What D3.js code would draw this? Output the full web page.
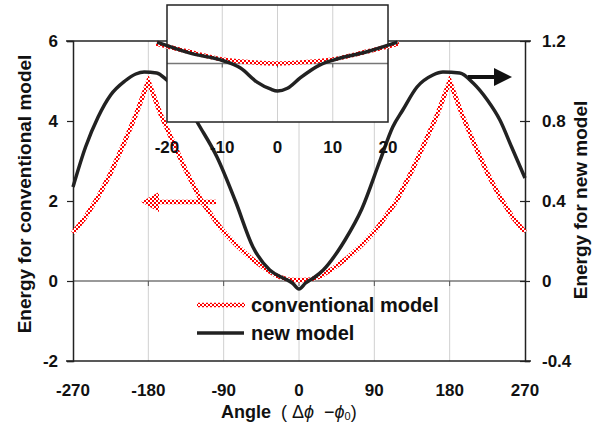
<!DOCTYPE html>
<html>
<head>
<meta charset="utf-8">
<script src="https://cdn.jsdelivr.net/npm/d3@7"></script>
<style>
  body { margin: 0; background: #fff; }
  svg text { font-family: "Liberation Sans", Arial, sans-serif; font-weight: bold; fill: #111; }
</style>
</head>
<body>
<div id="chart"></div>
<script>
// chart data
const angleTicks = [-270, -180, -90, 0, 90, 180, 270];
const leftTicks = [6, 4, 2, 0, -2];
const rightTicks = [1.2, 0.8, 0.4, 0, -0.4];

const convAngle = [-270, -255, -240, -225, -210, -195, -180, -165, -150, -136, -116, -92, -75, -58, -40, -26, -12, 0,
  12, 26, 40, 58, 75, 92, 116, 136, 150, 165, 180, 195, 210, 225, 240, 255, 270];
const convEnergy = [1.2, 1.6, 2.1, 2.7, 3.4, 4.15, 5.0, 4.15, 3.45, 2.8, 1.98, 1.28, 0.9, 0.58, 0.3, 0.12, 0.03, 0.02,
  0.03, 0.12, 0.3, 0.58, 0.9, 1.28, 1.98, 2.8, 3.45, 4.15, 5.0, 4.15, 3.4, 2.7, 2.1, 1.6, 1.22];

const newAngle = [-270, -255, -240, -225, -208, -195, -185, -170, -158, -140, -121, -98, -76, -55, -35, -19, -8, 0,
  8, 19, 29, 45, 55, 75, 97, 112, 124, 141, 160, 172, 192, 208, 225, 240, 254, 270];
const newEnergy = [0.47, 0.67, 0.82, 0.93, 1.0, 1.035, 1.045, 1.04, 1.005, 0.93, 0.79, 0.62, 0.4, 0.17, 0.055, 0.015, -0.01, -0.04,
  -0.01, 0.02, 0.055, 0.14, 0.205, 0.36, 0.605, 0.77, 0.855, 0.97, 1.03, 1.045, 1.04, 0.99, 0.905, 0.805, 0.67, 0.515];

// inset (zoom around 0)
const insetTicks = [-20, -10, 0, 10, 20];
const insetConvAngle = [-22, -16, -10, -5, 0, 5, 10, 16, 22];
const insetConvEnergy = [0.029, 0.017, 0.006, 0.002, 0, 0.002, 0.006, 0.017, 0.029];
const insetNewAngle = [-21.8, -15.8, -9.8, -6.7, -3.7, -1.3, 0, 1.8, 4.1, 7.7, 10.1, 16.2, 21.7];
const insetNewEnergy = [0.031, 0.015, 0.004, -0.0065, -0.027, -0.037, -0.040, -0.036, -0.021, -0.002, 0.005, 0.017, 0.031];

const width = 605, height = 432;
const svg = d3.select("#chart").append("svg")
    .attr("width", width)
    .attr("height", height);

// red/white checker used for the conventional model strokes
const pat = svg.append("defs").append("pattern")
    .attr("id", "checker")
    .attr("patternUnits", "userSpaceOnUse")
    .attr("width", 4).attr("height", 4);
pat.append("rect").attr("width", 4).attr("height", 4).style("fill", "#fff");
pat.append("rect").attr("width", 2).attr("height", 2).style("fill", "#ff0000");
pat.append("rect").attr("x", 2).attr("y", 2).attr("width", 2).attr("height", 2).style("fill", "#ff0000");

const x = d3.scaleLinear().domain([-270, 270]).range([73, 525]);
const yL = d3.scaleLinear().domain([-2, 6]).range([361, 41]);
const yR = d3.scaleLinear().domain([-0.4, 1.2]).range([361, 41]);

const BLACK = "#222";
const hyphen = d => String(d).replace("\u2212", "-");

// vertical gridlines
svg.selectAll(".vgrid")
    .data(angleTicks.slice(1, -1))
    .enter().append("line")
    .attr("x1", d => x(d)).attr("x2", d => x(d))
    .attr("y1", yL(6)).attr("y2", yL(-2))
    .style("stroke", "#d0d0d0").style("stroke-width", 1);

// x axis line at zero with ticks
svg.append("line")
    .attr("x1", x(-270)).attr("x2", x(270))
    .attr("y1", yL(0)).attr("y2", yL(0))
    .style("stroke", "#777").style("stroke-width", 1.5);
svg.selectAll(".xtick")
    .data(angleTicks.slice(1, -1))
    .enter().append("line")
    .attr("x1", d => x(d)).attr("x2", d => x(d))
    .attr("y1", yL(0)).attr("y2", yL(0) + 5)
    .style("stroke", "#555").style("stroke-width", 1);

// frame: top/bottom lines, left/right axes
svg.append("line").attr("x1", 66).attr("x2", 531).attr("y1", yL(6)).attr("y2", yL(6))
    .style("stroke", BLACK).style("stroke-width", 1.5);
svg.append("line").attr("x1", 66).attr("x2", 531).attr("y1", yL(-2)).attr("y2", yL(-2))
    .style("stroke", BLACK).style("stroke-width", 1.5);

const leftAxis = d3.axisLeft(yL).tickValues(leftTicks).tickSize(6).tickFormat(d => String(d));
svg.append("g").attr("class", "laxis")
    .attr("transform", `translate(${x(-270)},0)`)
    .call(leftAxis);
const rightAxis = d3.axisRight(yR).tickValues(rightTicks).tickSize(5)
    .tickFormat(d => d === 0 ? "0" : hyphen(d.toFixed(1)));
svg.append("g").attr("class", "raxis")
    .attr("transform", `translate(${x(270)},0)`)
    .call(rightAxis);
svg.selectAll(".laxis path, .raxis path").style("stroke", BLACK).style("stroke-width", 1.5);
svg.selectAll(".laxis line, .raxis line").style("stroke", BLACK).style("stroke-width", 1.2);
svg.selectAll(".raxis .tick line").attr("x1", -5);
svg.selectAll(".laxis text, .raxis text")
    .style("font-size", "17px").style("font-family", "Liberation Sans, Arial, sans-serif")
    .style("font-weight", "bold").style("fill", "#111");
svg.selectAll(".laxis text").attr("x", -15);
svg.selectAll(".raxis text").attr("x", 17);

// bottom tick labels
svg.selectAll(".xlab")
    .data(angleTicks)
    .enter().append("text")
    .attr("x", d => x(d)).attr("y", 396)
    .attr("text-anchor", "middle")
    .style("font-size", "17px")
    .text(d => String(d));

// curves
const convLine = d3.line().x(d => x(d[0])).y(d => yL(d[1]));
const newLine = d3.line().x(d => x(d[0])).y(d => yR(d[1])).curve(d3.curveMonotoneX);

function redDotted(sel) {
    sel.style("fill", "none").style("stroke", "url(#checker)").style("stroke-width", 4.5);
}

svg.append("path")
    .datum(convAngle.map((a, i) => [a, convEnergy[i]]))
    .attr("d", convLine)
    .call(redDotted);
svg.append("path")
    .datum(newAngle.map((a, i) => [a, newEnergy[i]]))
    .attr("d", newLine)
    .style("fill", "none").style("stroke", BLACK).style("stroke-width", 3.5)
    .style("stroke-linejoin", "round");

// arrows
svg.append("line").attr("x1", 157).attr("x2", 216).attr("y1", 202).attr("y2", 202).call(redDotted);
svg.append("path").attr("d", "M141,202 L159,192 L159,212 Z")
    .style("fill", "url(#checker)");
svg.append("line").attr("x1", 468).attr("x2", 496).attr("y1", 77).attr("y2", 77)
    .style("stroke", "#111").style("stroke-width", 4);
svg.append("path").attr("d", "M512,77 L494,68 L494,86 Z").style("fill", "#111");

// inset
const ix = d3.scaleLinear().domain([-20, 20]).range([167, 388]);
const iy = d3.scaleLinear().domain([-0.085, 0.085]).range([122, 5]);

svg.append("rect")
    .attr("x", ix(-20)).attr("y", iy(0.085))
    .attr("width", ix(20) - ix(-20)).attr("height", iy(-0.085) - iy(0.085))
    .style("fill", "#fff");
svg.selectAll(".igrid")
    .data(insetTicks.slice(1, -1))
    .enter().append("line")
    .attr("x1", d => ix(d)).attr("x2", d => ix(d))
    .attr("y1", iy(0.085)).attr("y2", iy(-0.085))
    .style("stroke", "#d0d0d0").style("stroke-width", 1);
svg.append("line")
    .attr("x1", ix(-20)).attr("x2", ix(20))
    .attr("y1", iy(0)).attr("y2", iy(0))
    .style("stroke", "#777").style("stroke-width", 1.5);
svg.selectAll(".itick")
    .data(insetTicks.slice(1, -1))
    .enter().append("line")
    .attr("x1", d => ix(d)).attr("x2", d => ix(d))
    .attr("y1", iy(0)).attr("y2", iy(0) + 4)
    .style("stroke", "#555").style("stroke-width", 1);
svg.append("rect")
    .attr("x", ix(-20)).attr("y", iy(0.085))
    .attr("width", ix(20) - ix(-20)).attr("height", iy(-0.085) - iy(0.085))
    .style("fill", "none").style("stroke", BLACK).style("stroke-width", 1.5);

const insetCurve = d3.line().x(d => ix(d[0])).y(d => iy(d[1])).curve(d3.curveMonotoneX);
svg.append("path")
    .datum(insetConvAngle.map((a, i) => [a, insetConvEnergy[i]]))
    .attr("d", insetCurve)
    .call(redDotted);
svg.append("path")
    .datum(insetNewAngle.map((a, i) => [a, insetNewEnergy[i]]))
    .attr("d", insetCurve)
    .style("fill", "none").style("stroke", BLACK).style("stroke-width", 3.5);

svg.selectAll(".ilab")
    .data(insetTicks)
    .enter().append("text")
    .attr("x", d => ix(d)).attr("y", 153)
    .attr("text-anchor", "middle")
    .style("font-size", "17px")
    .text(d => String(d));

// legend
const legend = svg.append("g");
legend.append("line").attr("x1", 197).attr("x2", 245).attr("y1", 305).attr("y2", 305).call(redDotted);
legend.append("text").attr("x", 251).attr("y", 312).style("font-size", "20px").text("conventional model");
legend.append("line").attr("x1", 197).attr("x2", 244).attr("y1", 333).attr("y2", 333)
    .style("stroke", BLACK).style("stroke-width", 3.5);
legend.append("text").attr("x", 251).attr("y", 340).style("font-size", "20px").text("new model");

// axis titles
svg.append("text")
    .attr("transform", "translate(31,194) rotate(-90)")
    .attr("text-anchor", "middle")
    .style("font-size", "19px")
    .text("Energy for conventional model");
svg.append("text")
    .attr("transform", "translate(587,200) rotate(-90)")
    .attr("text-anchor", "middle")
    .style("font-size", "19px")
    .text("Energy for new model");

const xTitle = svg.append("text")
    .attr("x", 221).attr("y", 418)
    .style("font-size", "18px")
    .style("white-space", "pre");
xTitle.append("tspan").text("Angle  ");
xTitle.append("tspan").style("font-weight", "normal").text("( Δ");
xTitle.append("tspan").style("font-weight", "normal").style("font-style", "italic").text("ϕ");
xTitle.append("tspan").style("font-weight", "normal").text("  −");
xTitle.append("tspan").style("font-weight", "normal").style("font-style", "italic").text("ϕ");
xTitle.append("tspan").style("font-weight", "normal").style("font-size", "11px").attr("dy", 2).text("0");
xTitle.append("tspan").style("font-weight", "normal").attr("dy", -2).text(")");
</script>
</body>
</html>
